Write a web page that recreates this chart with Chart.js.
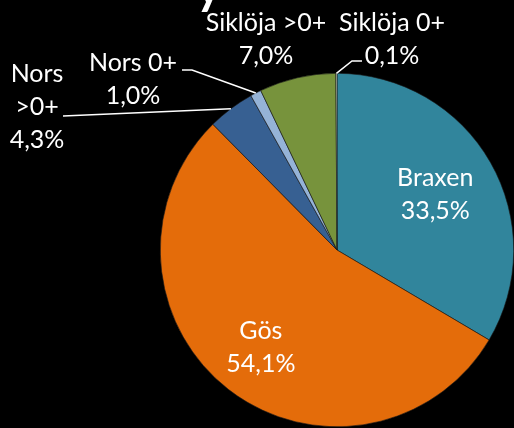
<!DOCTYPE html>
<html>
<head>
<meta charset="utf-8">
<script src="https://cdn.jsdelivr.net/npm/chart.js@4.4.1/dist/chart.umd.min.js"></script>
<style>
  html, body { margin: 0; padding: 0; background: #000; }
  canvas { display: block; }
</style>
</head>
<body>
<canvas id="chart" width="514" height="428"></canvas>
<script>
// fish catch shares, clockwise from 12 o'clock
const categories = ['Braxen', 'Gös', 'Nors >0+', 'Nors 0+', 'Siklöja >0+', 'Siklöja 0+'];
const shares = [33.5, 54.1, 4.3, 1.0, 7.0, 0.1];
const sliceColors = ['#31859C', '#E46C0A', '#376092', '#95B3D7', '#77933C', '#E8EFD8'];

const FONT = '25px Lato, "Open Sans", sans-serif';
const LINE_H = 33;

// inside labels: fraction of the radius along the slice middle
const insideR = { 0: 0.64, 1: 0.70 };

// where the outside labels sit (first line centre) and their leader line bends
const outside = {
  2: { lines: ['Nors', '>0+'], x: 37, y: 74, leader: [[63, 116]] },
  3: { lines: ['Nors 0+'], x: 133, y: 63, leader: [[182, 70], [192, 70]] },
  4: { lines: ['Siklöja >0+'], x: 266, y: 23, leader: null },
  5: { lines: ['Siklöja 0+'], x: 392, y: 23, leader: [[362, 61], [352, 61]] }
};

function pct(v) {
  return v.toFixed(1).replace('.', ',') + '%';
}

const labelPlugin = {
  id: 'pieLabels',
  afterDatasetsDraw(chart) {
    const ctx = chart.ctx;
    const meta = chart.getDatasetMeta(0);
    ctx.save();
    ctx.fillStyle = '#fff';
    ctx.strokeStyle = '#fff';
    ctx.lineWidth = 1.5;
    ctx.font = FONT;
    ctx.textAlign = 'center';
    ctx.textBaseline = 'middle';

    meta.data.forEach((arc, i) => {
      const p = arc.getProps(['x', 'y', 'startAngle', 'endAngle', 'outerRadius']);
      const mid = (p.startAngle + p.endAngle) / 2;
      const o = outside[i];
      if (!o) {
        const r = p.outerRadius * insideR[i];
        const cx = p.x + Math.cos(mid) * r;
        const cy = p.y + Math.sin(mid) * r;
        ctx.fillText(categories[i], cx, cy - LINE_H / 2);
        ctx.fillText(pct(shares[i]), cx, cy + LINE_H / 2);
        return;
      }
      const lines = o.lines.concat([pct(shares[i])]);
      lines.forEach((t, k) => ctx.fillText(t, o.x, o.y + k * LINE_H));
      if (o.leader) {
        const ex = p.x + Math.cos(mid) * p.outerRadius;
        const ey = p.y + Math.sin(mid) * p.outerRadius;
        ctx.beginPath();
        ctx.moveTo(o.leader[0][0], o.leader[0][1]);
        for (let k = 1; k < o.leader.length; k++) ctx.lineTo(o.leader[k][0], o.leader[k][1]);
        ctx.lineTo(ex, ey);
        ctx.stroke();
      }
    });

    // bottom of the cut-off title
    ctx.font = 'bold 48px Lato, "Open Sans", sans-serif';
    ctx.textAlign = 'left';
    ctx.textBaseline = 'alphabetic';
    ctx.fillText('y', 196, 4);
    ctx.restore();
  }
};

new Chart(document.getElementById('chart'), {
  type: 'pie',
  data: {
    labels: categories,
    datasets: [{
      data: shares,
      backgroundColor: sliceColors,
      borderColor: '#1a1a1a',
      borderWidth: 0.6
    }]
  },
  options: {
    responsive: false,
    animation: false,
    layout: { padding: { left: 160, right: 0, top: 73, bottom: 1 } },
    plugins: {
      legend: { display: false },
      tooltip: { enabled: false },
      title: { display: false }
    }
  },
  plugins: [labelPlugin]
});
</script>
</body>
</html>
